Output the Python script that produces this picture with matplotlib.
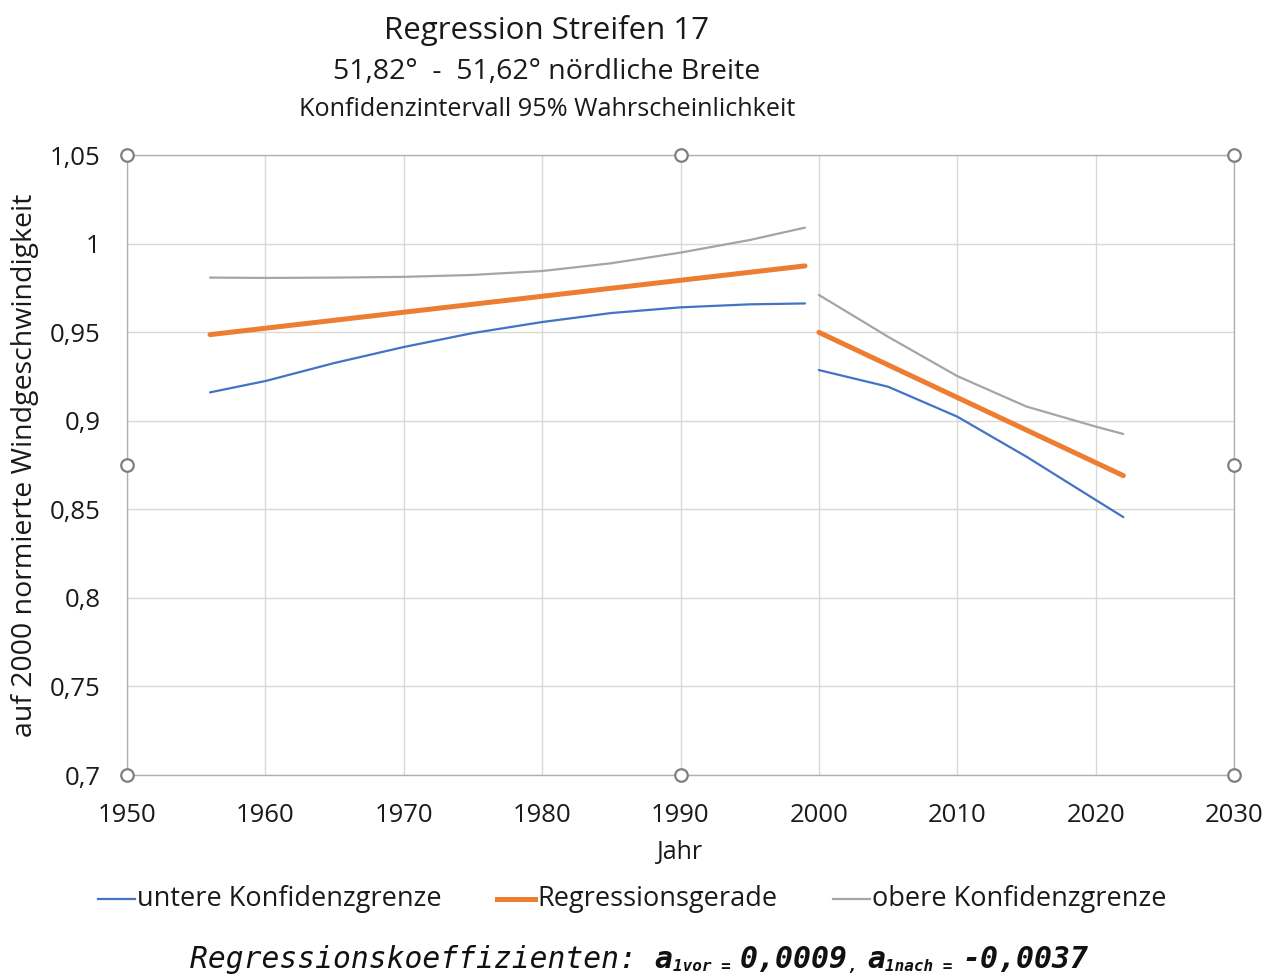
import matplotlib
matplotlib.use("Agg")
import matplotlib.pyplot as plt
from matplotlib.lines import Line2D

# ---- data ----
years_before = [1956, 1960, 1965, 1970, 1975, 1980, 1985, 1990, 1995, 1999]
lower_before = [0.916, 0.9224, 0.9326, 0.9416, 0.9495, 0.9557, 0.9608, 0.9640, 0.9657, 0.9662]
upper_before = [0.9808, 0.9806, 0.9808, 0.9812, 0.9823, 0.9845, 0.9889, 0.9949, 1.0020, 1.0090]
reg_years_before = [1956, 1999]
reg_before = [0.9486, 0.9874]

years_after = [2000, 2005, 2010, 2015, 2020, 2022]
lower_after = [0.9286, 0.9192, 0.9023, 0.8797, 0.8553, 0.8456]
upper_after = [0.9710, 0.9474, 0.9252, 0.9080, 0.8967, 0.8925]
reg_years_after = [2000, 2022]
reg_after = [0.9499, 0.8690]

xticks = [1950, 1960, 1970, 1980, 1990, 2000, 2010, 2020, 2030]
yticks = [0.7, 0.75, 0.8, 0.85, 0.9, 0.95, 1.0, 1.05]
ytick_labels = ["0,7", "0,75", "0,8", "0,85", "0,9", "0,95", "1", "1,05"]

title = "Regression Streifen 17"
subtitle1 = "51,82°  -  51,62° nördliche Breite"
subtitle2 = "Konfidenzintervall 95% Wahrscheinlichkeit"
xlabel = "Jahr"
ylabel = "auf 2000 normierte Windgeschwindigkeit"
legend_labels = ["untere Konfidenzgrenze", "Regressionsgerade", "obere Konfidenzgrenze"]

BLUE = "#4472C4"
ORANGE = "#ED7D31"
GRAY = "#A5A5A5"
FONT = "Open Sans"
TXT = "#1A1A1A"

W, H = 1266, 976
fig = plt.figure(figsize=(W / 100, H / 100), dpi=100)
ax = fig.add_axes([127 / W, 1 - 775 / H, (1234 - 127) / W, (775 - 155) / H])

ax.plot(years_before, lower_before, color=BLUE, lw=1.6, solid_capstyle="round")
ax.plot(reg_years_before, reg_before, color=ORANGE, lw=3.6, solid_capstyle="round")
ax.plot(years_before, upper_before, color=GRAY, lw=1.6, solid_capstyle="round")
ax.plot(years_after, lower_after, color=BLUE, lw=1.6, solid_capstyle="round")
ax.plot(reg_years_after, reg_after, color=ORANGE, lw=3.6, solid_capstyle="round")
ax.plot(years_after, upper_after, color=GRAY, lw=1.6, solid_capstyle="round")

ax.set_xlim(1950, 2030)
ax.set_ylim(0.7, 1.05)
ax.set_xticks(xticks)
ax.set_xticklabels([str(x) for x in xticks], fontfamily=FONT, fontsize=18.5, color=TXT)
ax.set_yticks(yticks)
ax.set_yticklabels(ytick_labels, fontfamily=FONT, fontsize=18.5, color=TXT)
ax.tick_params(length=0)
ax.tick_params(axis="x", pad=20)
ax.tick_params(axis="y", pad=19)
ax.grid(True, color="#D9D9D9", lw=1)
ax.set_axisbelow(True)
for s in ax.spines.values():
    s.set_color("#B0B0B0")
    s.set_linewidth(1.0)

# selection handles
for (hx, hy) in [(0, 0), (0.5, 0), (1, 0), (0, 0.5), (1, 0.5), (0, 1), (0.5, 1), (1, 1)]:
    ax.plot([hx], [hy], marker="o", ms=9, mfc="white", mec="#7F7F7F", mew=1.6,
            transform=ax.transAxes, clip_on=False, zorder=10)

fig.text(547 / W, 1 - 30 / H, title, ha="center", va="center", fontfamily=FONT, fontsize=22.5, color=TXT)
fig.text(547 / W, 1 - 72 / H, subtitle1, ha="center", va="center", fontfamily=FONT, fontsize=20.5, color=TXT)
fig.text(547 / W, 1 - 110 / H, subtitle2, ha="center", va="center", fontfamily=FONT, fontsize=18.2, color=TXT)
fig.text(680 / W, 1 - 853 / H, xlabel, ha="center", va="center", fontfamily=FONT, fontsize=18, color=TXT)
fig.text(25 / W, 1 - 465 / H, ylabel, ha="center", va="center", rotation=90,
         fontfamily=FONT, fontsize=20.5, color=TXT)

# legend, drawn manually in figure pixel positions
legend_colors = [BLUE, ORANGE, GRAY]
legend_widths = [1.6, 3.6, 1.6]
legend_x = [(98, 135), (497, 535), (833, 870)]
ly = 1 - 899 / H
for (x0, x1), c, lw, lab in zip(legend_x, legend_colors, legend_widths, legend_labels):
    fig.add_artist(Line2D([x0 / W, x1 / W], [ly, ly], color=c, lw=lw, transform=fig.transFigure))
    fig.text((x1 + 2) / W, ly, lab, ha="left", va="center", fontfamily=FONT, fontsize=19.5, color=TXT)

# formula line, placed piece by piece
fig.canvas.draw()
renderer = fig.canvas.get_renderer()
pieces = [
    ("Regressionskoeffizienten: ", 21.3, "normal", 0),
    ("a", 21.5, "bold", 0),
    ("1vor = ", 11.5, "bold", -3),
    ("0,0009", 21.5, "bold", 0),
    (", ", 11.5, "bold", -3),
    ("a", 21.5, "bold", 0),
    ("1nach = ", 11.5, "bold", -3),
    ("-0,0037", 21.5, "bold", 0),
]
x = 190
base = 968
for txt, size, weight, dy in pieces:
    t = fig.text(x / W, 1 - (base - dy) / H, txt, ha="left", va="baseline",
                 fontfamily="DejaVu Sans Mono", fontstyle="italic", fontweight=weight,
                 fontsize=size, color="#111111")
    bb = t.get_window_extent(renderer)
    x = x + bb.width

fig.savefig("out.png", dpi=100)
